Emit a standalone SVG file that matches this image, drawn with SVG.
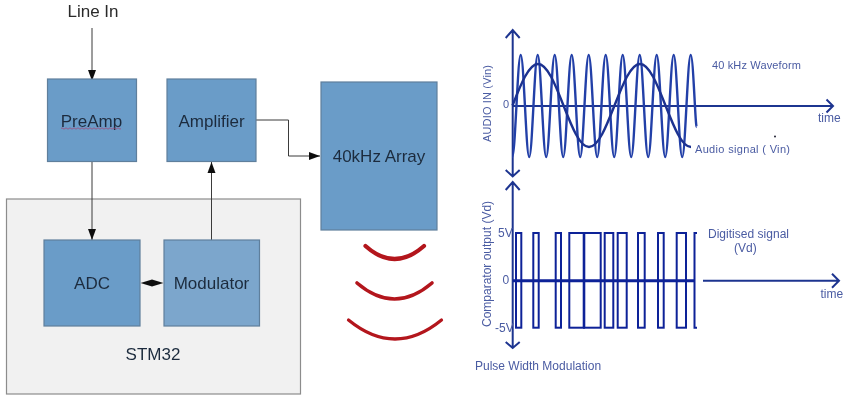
<svg xmlns="http://www.w3.org/2000/svg" width="843" height="396" viewBox="0 0 843 396">
<style>
text{font-family:"Liberation Sans",Arial,sans-serif}
.box{fill:#6a9cc8;stroke:#5f7f9c;stroke-width:1.2}
.lbl{font-size:17px;fill:#1d2c3e;text-anchor:middle}
.conn{fill:none;stroke:#3a3a3a;stroke-width:1}
.arc{fill:none;stroke:#b3141c;stroke-linecap:round}
.axis{fill:none;stroke:#1f3490;stroke-width:2}
.wave{fill:none;stroke:#2440a8;stroke-width:2.400}
.audio{fill:none;stroke:#1a3090;stroke-width:2.400}
.pulse{fill:none;stroke:#0f2198;stroke-width:2}
.cap{fill:#4a5ba2;font-size:11px}
.cap2{fill:#4a5ba2;font-size:12px}
</style>
<defs>
<marker id="tri" markerUnits="userSpaceOnUse" markerWidth="12" markerHeight="10" refX="11" refY="4.500" orient="auto"><path d="M0,0.500L11,4.500L0,8.500Z" fill="#111"/></marker>
<filter id="soft" x="0" y="0" width="100%" height="100%" filterUnits="objectBoundingBox"><feGaussianBlur stdDeviation="0.45"/></filter>
</defs>
<g filter="url(#soft)">
<rect x="0" y="0" width="843" height="396" fill="#ffffff"/>
<g id="stm32"><rect x="6.5" y="199" width="294" height="195" fill="#f1f1f1" stroke="#8c8c8c" stroke-width="1.2"/><text x="153" y="360" class="lbl">STM32</text></g>
<g id="connectors">
<path class="conn" d="M92,28V81" marker-end="url(#tri)"/>
<path class="conn" d="M92,161V240" marker-end="url(#tri)"/>
<path class="conn" d="M211.5,240V162" marker-end="url(#tri)"/>
<path class="conn" d="M256,120H288.5V156H320" marker-end="url(#tri)"/>
<path d="M140.5,283L152,279.500L163.500,283L152,286.500Z" fill="#111"/>
</g>
<g id="preamp"><rect class="box" x="47.5" y="79" width="89" height="82.5"/><text x="91.5" y="127" class="lbl">PreAmp</text><path d="M61,128.500q1,-1.4 2,0t2,0t2,0t2,0t2,0t2,0t2,0t2,0t2,0t2,0t2,0t2,0t2,0t2,0t2,0t2,0t2,0t2,0t2,0t2,0t2,0t2,0t2,0t2,0t2,0t2,0t2,0t2,0t2,0t2,0" fill="none" stroke="#a04a78" stroke-width="0.8"/></g>
<g id="amplifier"><rect class="box" x="167" y="79" width="89" height="82.5"/><text x="211.5" y="127" class="lbl">Amplifier</text></g>
<g id="array"><rect class="box" x="321" y="82" width="116" height="148"/><text x="379" y="162" class="lbl">40kHz Array</text></g>
<g id="adc"><rect class="box" x="44" y="240" width="96" height="86"/><text x="92" y="289" class="lbl">ADC</text></g>
<g id="modulator"><rect class="box" style="fill:#7ba6cc" x="164" y="240" width="95.500" height="86"/><text x="211.5" y="289" class="lbl">Modulator</text></g>
<g id="emission">
<path class="arc" stroke-width="4.200" d="M365.500,246Q394.500,272 424,246"/>
<path class="arc" stroke-width="3.600" d="M357,283Q394.500,315 432,283"/>
<path class="arc" stroke-width="3.200" d="M348.500,320Q395,358 441.500,320"/>
</g>
<g id="audio-in-plot">
<path class="axis" d="M512.700,30V176.500M505.700,38L512.700,30L519.700,38M505.700,170L512.700,176.500L519.700,170M512.700,106H833M826.500,99.500L833,106L826.500,112.500"/>
<path class="wave" d="M512.200,157c1.54,0 2.86,-24.9 4.25,-51c1.39,-26.1 2.71,-51 4.25,-51c1.54,0 2.86,24.9 4.25,51c1.39,26.1 2.71,51 4.25,51c1.54,0 2.86,-24.9 4.25,-51c1.39,-26.1 2.71,-51 4.25,-51c1.54,0 2.86,24.9 4.25,51c1.39,26.1 2.71,51 4.25,51c1.54,0 2.86,-24.9 4.25,-51c1.39,-26.1 2.71,-51 4.25,-51c1.54,0 2.86,24.9 4.25,51c1.39,26.1 2.71,51 4.25,51c1.54,0 2.86,-24.9 4.25,-51c1.39,-26.1 2.71,-51 4.25,-51c1.54,0 2.86,24.9 4.25,51c1.39,26.1 2.71,51 4.25,51c1.54,0 2.86,-24.9 4.25,-51c1.39,-26.1 2.71,-51 4.25,-51c1.54,0 2.86,24.9 4.25,51c1.39,26.1 2.71,51 4.25,51c1.54,0 2.86,-24.9 4.25,-51c1.39,-26.1 2.71,-51 4.25,-51c1.54,0 2.86,24.9 4.25,51c1.39,26.1 2.71,51 4.25,51c1.54,0 2.86,-24.9 4.25,-51c1.39,-26.1 2.71,-51 4.25,-51c1.54,0 2.86,24.9 4.25,51c1.39,26.1 2.71,51 4.25,51c1.54,0 2.86,-24.9 4.25,-51c1.39,-26.1 2.71,-51 4.25,-51c1.54,0 2.86,24.9 4.25,51c1.39,26.1 2.71,51 4.25,51c1.54,0 2.86,-24.9 4.25,-51c1.39,-26.1 2.71,-51 4.25,-51c1.54,0 2.86,24.9 4.25,51c1.39,26.1 2.71,51 4.25,51c1.54,0 2.86,-24.9 4.25,-51c1.39,-26.1 2.71,-51 4.25,-51c1.54,0 2.86,24.9 4.25,51c1.39,26.1 2.71,51 4.25,51c1.54,0 2.86,-24.9 4.25,-51c1.39,-26.1 2.71,-51 4.25,-51c1.54,0 2.86,24.9 4.25,51c1.1,20 1.5,21 1.700,21"/>
<path class="audio" d="M512.500,105.500c8.32,-21.26 16.27,-41.5 25.5,-41.5c9.23,0 17.18,20.24 25.5,41.5c8.32,21.26 16.27,41.5 25.5,41.5c9.23,0 17.18,-20.24 25.5,-41.5c8.32,-21.26 16.27,-41.5 25.5,-41.5c9.23,0 17.18,20.24 25.5,41.5c8.32,21.26 16.27,41.5 25.5,41.5"/>
<circle cx="775" cy="136.500" r="1" fill="#223"/>
<text class="cap" x="712" y="69" textLength="89">40 kHz Waveform</text>
<text class="cap" x="695" y="153" textLength="95">Audio signal ( Vin)</text>
<text class="cap2" x="818" y="122">time</text>
<text class="cap" x="503" y="108">0</text>
<text class="cap" transform="translate(490.500,142) rotate(-90)" textLength="77">AUDIO IN (Vin)</text>
</g>
<g id="pwm-plot">
<path class="axis" d="M512.700,182V348M505.700,190L512.700,182L519.700,190M505.700,342L512.700,348L519.700,342"/>
<path d="M513,280.700H695" fill="none" stroke="#0f2198" stroke-width="3"/>
<path class="axis" d="M703,280.700H839M832,273.700L839,280.700L832,287.700"/>
<g class="pulse">
<rect x="516" y="233" width="5.300" height="94.700"/>
<rect x="533.300" y="233" width="5.400" height="94.700"/>
<rect x="555.700" y="233" width="5.300" height="94.700"/>
<rect x="569.300" y="233" width="14.700" height="94.700"/>
<rect x="584" y="233" width="16.700" height="94.700"/>
<rect x="604.700" y="233" width="8.600" height="94.700"/>
<rect x="617.700" y="233" width="9" height="94.700"/>
<rect x="638" y="233" width="6.700" height="94.700"/>
<rect x="658" y="233" width="5.700" height="94.700"/>
<rect x="676.700" y="233" width="9.300" height="94.700"/>
<path d="M697,233H694.500V327.700H697"/>
</g>
<path d="M584,233V327.700" fill="none" stroke="#0f2198" stroke-width="2.600"/>
<text class="cap2" x="708" y="238" textLength="81">Digitised signal</text>
<text class="cap2" x="734" y="252">(Vd)</text>
<text class="cap2" x="820.500" y="297.500">time</text>
<text class="cap2" x="498" y="237">5V</text>
<text class="cap2" x="502.500" y="284">0</text>
<text class="cap2" x="495" y="332">-5V</text>
<text class="cap2" transform="translate(491,327) rotate(-90)">Comparator output (Vd)</text>
<text class="cap2" x="475" y="370">Pulse Width Modulation</text>
</g>
<text x="93" y="17" class="lbl" style="fill:#2a2a2a">Line In</text>
</g>
</svg>
